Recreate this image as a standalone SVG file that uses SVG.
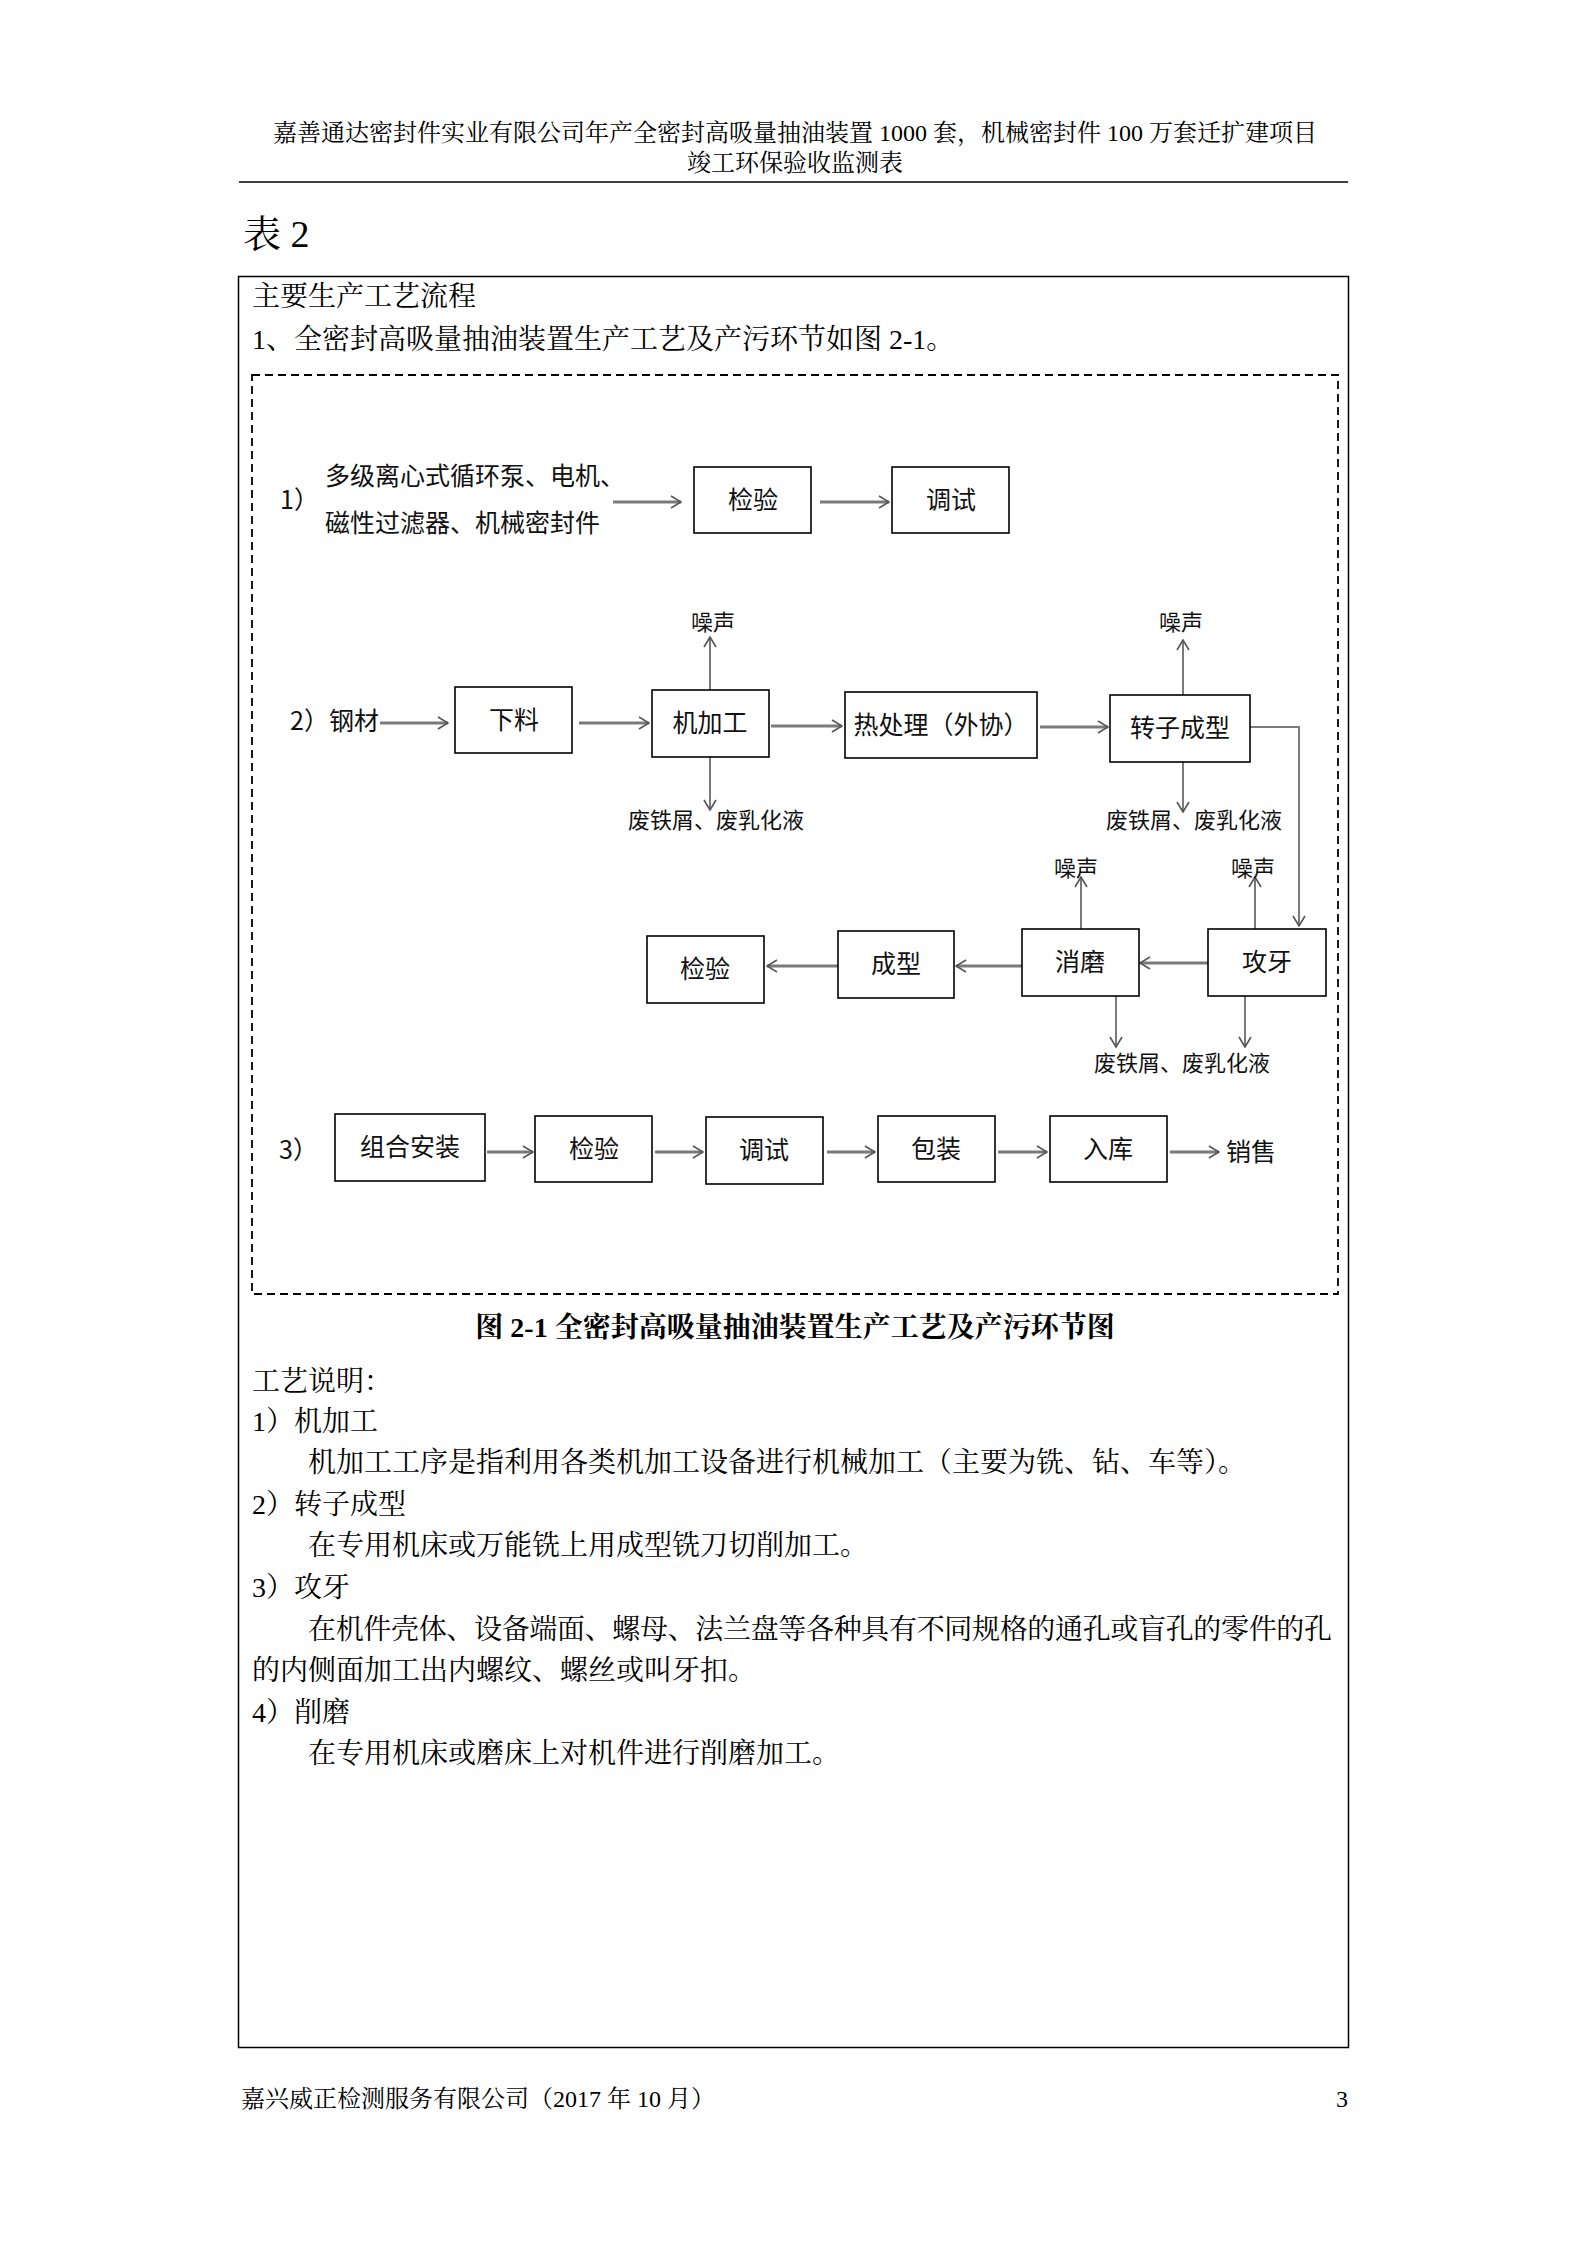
<svg xmlns="http://www.w3.org/2000/svg" width="1587" height="2245" viewBox="0 0 1587 2245">
<style>
.serif{font-family:"Liberation Serif","Noto Serif CJK SC","Noto Sans CJK SC",serif;fill:#000}
.h{font-size:24px}
.b{font-size:28px}
.cap{font-size:28px;font-weight:bold}
.d{font-family:"Noto Sans CJK SC","Noto Sans",sans-serif;font-size:25px;fill:#111}
.s{font-size:22px}
.c{text-anchor:middle}
.box{fill:#fff;stroke:#000;stroke-width:1.6}
.ah{fill:none;stroke:#7a7a7a;stroke-width:3}
.av{fill:none;stroke:#7a7a7a;stroke-width:2}
</style>
<defs>
<marker id="ar" viewBox="0 0 12 14" refX="11" refY="7" markerWidth="12" markerHeight="14" markerUnits="userSpaceOnUse" orient="auto">
<path d="M1,1 L11,7 L1,13" fill="none" stroke="#555" stroke-width="1.6"/>
</marker>
</defs>
<rect width="1587" height="2245" fill="#fff"/>

<g id="header">
<text class="serif h c" x="795" y="141">嘉善通达密封件实业有限公司年产全密封高吸量抽油装置 1000 套，机械密封件 100 万套迁扩建项目</text>
<text class="serif h c" x="795" y="171">竣工环保验收监测表</text>
<line x1="239" y1="182" x2="1348" y2="182" stroke="#000" stroke-width="1.5"/>
<text class="serif" x="243" y="247" font-size="38">表 2</text>
</g>

<rect id="table" x="238.5" y="276.5" width="1110" height="1771" fill="none" stroke="#000" stroke-width="1.5"/>
<text class="serif b" x="252" y="306">主要生产工艺流程</text>
<text class="serif b" x="252" y="349">1、全密封高吸量抽油装置生产工艺及产污环节如图 2-1。</text>

<rect id="frame" x="252" y="375" width="1086" height="919" fill="none" stroke="#000" stroke-width="1.8" stroke-dasharray="8,5"/>

<g id="connectors">
<line class="ah" x1="613" y1="502" x2="681" y2="502" marker-end="url(#ar)"/>
<line class="ah" x1="820" y1="502" x2="889" y2="502" marker-end="url(#ar)"/>
<line class="ah" x1="380" y1="723" x2="448" y2="723" marker-end="url(#ar)"/>
<line class="ah" x1="579" y1="723" x2="649" y2="723" marker-end="url(#ar)"/>
<line class="ah" x1="771" y1="726" x2="842" y2="726" marker-end="url(#ar)"/>
<line class="ah" x1="1040" y1="727" x2="1108" y2="727" marker-end="url(#ar)"/>
<line class="av" x1="710" y1="690" x2="710" y2="637" marker-end="url(#ar)"/>
<line class="av" x1="710" y1="757" x2="710" y2="810" marker-end="url(#ar)"/>
<line class="av" x1="1183" y1="695" x2="1183" y2="640" marker-end="url(#ar)"/>
<line class="av" x1="1183" y1="762" x2="1183" y2="812" marker-end="url(#ar)"/>
<polyline class="av" points="1250,727 1299,727 1299,926" marker-end="url(#ar)"/>
<line class="ah" x1="1208" y1="963" x2="1140" y2="963" marker-end="url(#ar)"/>
<line class="ah" x1="1022" y1="966" x2="956" y2="966" marker-end="url(#ar)"/>
<line class="ah" x1="838" y1="966" x2="767" y2="966" marker-end="url(#ar)"/>
<line class="av" x1="1081" y1="929" x2="1081" y2="877" marker-end="url(#ar)"/>
<line class="av" x1="1116" y1="996" x2="1116" y2="1047" marker-end="url(#ar)"/>
<line class="av" x1="1255" y1="929" x2="1255" y2="877" marker-end="url(#ar)"/>
<line class="av" x1="1245" y1="996" x2="1245" y2="1047" marker-end="url(#ar)"/>
<line class="ah" x1="487" y1="1152" x2="533" y2="1152" marker-end="url(#ar)"/>
<line class="ah" x1="655" y1="1152" x2="703" y2="1152" marker-end="url(#ar)"/>
<line class="ah" x1="827" y1="1152" x2="875" y2="1152" marker-end="url(#ar)"/>
<line class="ah" x1="998" y1="1152" x2="1047" y2="1152" marker-end="url(#ar)"/>
<line class="ah" x1="1170" y1="1152" x2="1219" y2="1152" marker-end="url(#ar)"/>
</g>

<g id="row1-label">
<text class="d" x="280" y="509">1）</text>
<text class="d" x="325" y="485">多级离心式循环泵、电机、</text>
<text class="d" x="325" y="532">磁性过滤器、机械密封件</text>
</g>
<g id="n-jianyan1"><rect class="box" x="694" y="467" width="117" height="66"/><text class="d c" x="753" y="509">检验</text></g>
<g id="n-tiaoshi1"><rect class="box" x="892" y="467" width="117" height="66"/><text class="d c" x="951" y="509">调试</text></g>

<g id="row2-label"><text class="d" x="290" y="730">2）钢材</text></g>
<g id="n-xialiao"><rect class="box" x="455" y="687" width="117" height="66"/><text class="d c" x="514" y="729">下料</text></g>
<g id="n-jijiagong"><rect class="box" x="652" y="690" width="117" height="67"/><text class="d c" x="710" y="732">机加工</text></g>
<g id="n-rechuli"><rect class="box" x="845" y="692" width="192" height="66"/><text class="d c" x="941" y="734">热处理（外协）</text></g>
<g id="n-zhuanzi"><rect class="box" x="1110" y="695" width="140" height="67"/><text class="d c" x="1180" y="737">转子成型</text></g>
<g id="noise1"><text class="d s c" x="713" y="630">噪声</text></g>
<g id="waste1"><text class="d s c" x="716" y="828">废铁屑、废乳化液</text></g>
<g id="noise2"><text class="d s c" x="1181" y="630">噪声</text></g>
<g id="waste2"><text class="d s c" x="1194" y="828">废铁屑、废乳化液</text></g>

<g id="n-gongya"><rect class="box" x="1208" y="929" width="118" height="67"/><text class="d c" x="1267" y="971">攻牙</text></g>
<g id="n-xiaomo"><rect class="box" x="1022" y="929" width="117" height="67"/><text class="d c" x="1080" y="971">消磨</text></g>
<g id="n-chengxing"><rect class="box" x="838" y="931" width="116" height="67"/><text class="d c" x="896" y="973">成型</text></g>
<g id="n-jianyan2"><rect class="box" x="647" y="936" width="117" height="67"/><text class="d c" x="705" y="978">检验</text></g>
<g id="noise3"><text class="d s c" x="1076" y="876">噪声</text></g>
<g id="noise4"><text class="d s c" x="1253" y="876">噪声</text></g>
<g id="waste3"><text class="d s c" x="1182" y="1071">废铁屑、废乳化液</text></g>

<g id="row3-label"><text class="d" x="279" y="1159">3）</text></g>
<g id="n-zuhe"><rect class="box" x="335" y="1114" width="150" height="67"/><text class="d c" x="410" y="1156">组合安装</text></g>
<g id="n-jianyan3"><rect class="box" x="535" y="1116" width="117" height="66"/><text class="d c" x="594" y="1158">检验</text></g>
<g id="n-tiaoshi3"><rect class="box" x="706" y="1117" width="117" height="67"/><text class="d c" x="764" y="1159">调试</text></g>
<g id="n-baozhuang"><rect class="box" x="878" y="1116" width="117" height="66"/><text class="d c" x="936" y="1158">包装</text></g>
<g id="n-ruku"><rect class="box" x="1050" y="1116" width="117" height="66"/><text class="d c" x="1108" y="1158">入库</text></g>
<g id="sale"><text class="d" x="1226" y="1161">销售</text></g>

<g id="body">
<text class="serif cap c" x="795" y="1337">图 2-1  全密封高吸量抽油装置生产工艺及产污环节图</text>
<text class="serif b" x="252" y="1391">工艺说明：</text>
<text class="serif b" x="252" y="1431">1）机加工</text>
<text class="serif b" x="308" y="1472">机加工工序是指利用各类机加工设备进行机械加工（主要为铣、钻、车等）。</text>
<text class="serif b" x="252" y="1514">2）转子成型</text>
<text class="serif b" x="308" y="1555">在专用机床或万能铣上用成型铣刀切削加工。</text>
<text class="serif b" x="252" y="1597">3）攻牙</text>
<text class="serif b" x="308" y="1639" textLength="1024">在机件壳体、设备端面、螺母、法兰盘等各种具有不同规格的通孔或盲孔的零件的孔</text>
<text class="serif b" x="252" y="1680">的内侧面加工出内螺纹、螺丝或叫牙扣。</text>
<text class="serif b" x="252" y="1722">4）削磨</text>
<text class="serif b" x="308" y="1763">在专用机床或磨床上对机件进行削磨加工。</text>
</g>

<g id="footer">
<text class="serif h" x="241" y="2107">嘉兴威正检测服务有限公司（2017 年 10 月）</text>
<text class="serif h" x="1348" y="2107" text-anchor="end">3</text>
</g>
</svg>
